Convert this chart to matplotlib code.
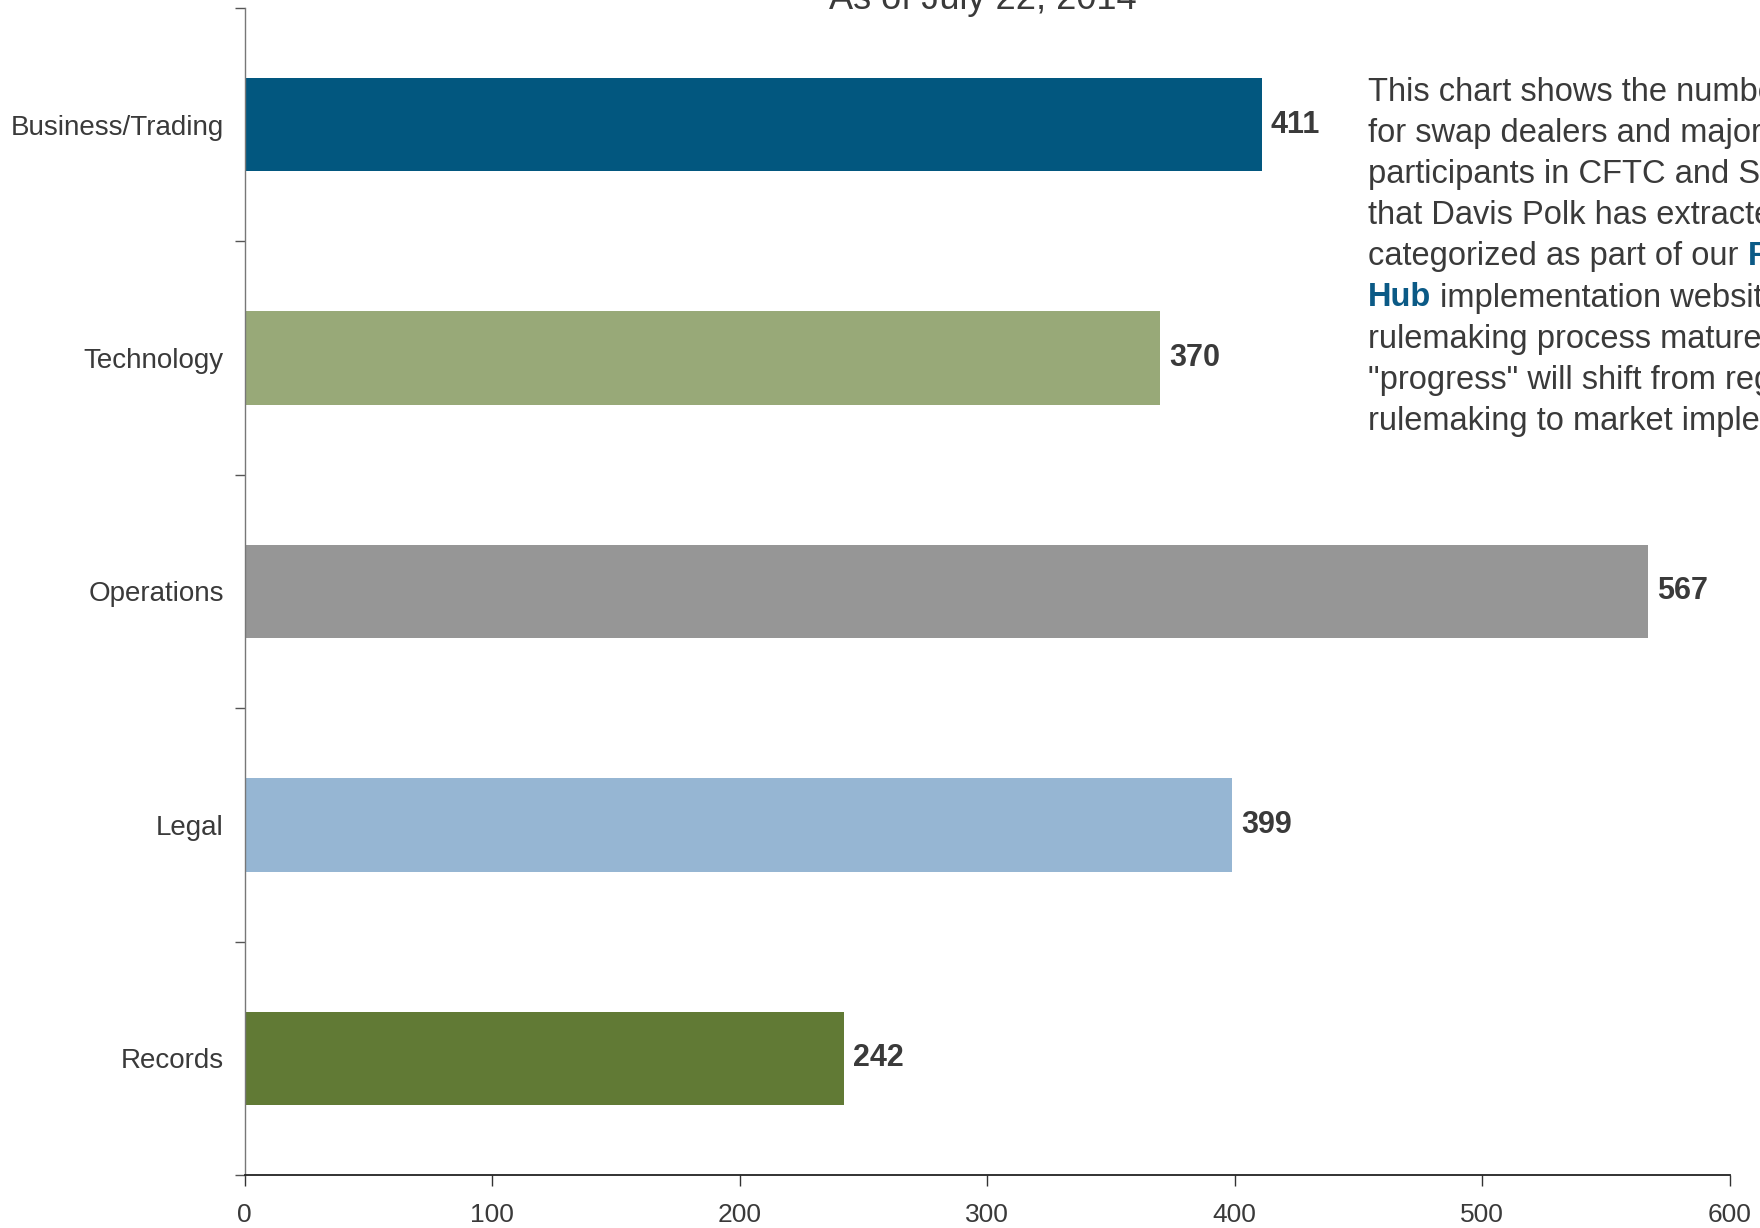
import matplotlib
matplotlib.use('Agg')
import matplotlib.pyplot as plt
import numpy as np

# Data
categories = ['Business/Trading', 'Technology', 'Operations', 'Legal', 'Records']
counts = [411, 370, 567, 399, 242]
bar_colors = ['#02577F', '#98A978', '#969696', '#96B6D3', '#617A35']
x_ticks = [0, 100, 200, 300, 400, 500, 600]

note_lines = [
    'This chart shows the number of requirements',
    'for swap dealers and major swap',
    'participants in CFTC and SEC rules',
    'that Davis Polk has extracted and',
    'categorized as part of our ',
    ' implementation website. As the',
    'rulemaking process matures,',
    '"progress" will shift from regulatory',
    'rulemaking to market implementation.',
]

plt.rcParams['font.family'] = ['Liberation Sans', 'DejaVu Sans']
text_color = '#3a3a3a'
link_color = '#0B5A86'

fig = plt.figure(figsize=(17.6, 12.28), dpi=100)
ax = fig.add_axes([0.139, 0.0432, 0.8437, 0.9503])

y = np.arange(len(categories))
ax.barh(y, counts, height=0.4, color=bar_colors)

for yi, v in zip(y, counts):
    ax.annotate(str(v), xy=(v, yi), xytext=(9, 0), textcoords='offset pixels',
                ha='left', va='center', fontsize=22, fontweight='bold', color=text_color)

ax.set_xlim(0, 600)
ax.set_ylim(len(categories) - 0.5, -0.5)
ax.set_xticks(x_ticks)
ax.set_yticks(y)
ax.set_yticklabels(categories)
ax.set_yticks(np.arange(-0.5, len(categories)), minor=True)

ax.tick_params(axis='y', which='major', length=0, pad=15, labelsize=20, labelcolor=text_color)
ax.tick_params(axis='y', which='minor', length=7, width=1, color='#555555')
ax.tick_params(axis='x', length=8, width=1, pad=12, labelsize=19, labelcolor=text_color, color='#333333')

for s in ['top', 'right']:
    ax.spines[s].set_visible(False)
ax.spines['left'].set_color('#777777')
ax.spines['left'].set_linewidth(1)
ax.spines['bottom'].set_color('#222222')
ax.spines['bottom'].set_linewidth(1.3)

# Subtitle (cropped at top in the original)
fig.text(983 / 1760, 1 - 9 / 1228, 'As of July 22, 2014', ha='center', va='baseline',
         fontsize=26, color=text_color)

# Side note
x0 = 1368 / 1760
for i, line in enumerate(note_lines):
    yy = 1 - (92 + i * 41.2) / 1228
    if i == 5:
        t = fig.text(x0, yy, 'Hub', ha='left', va='center', fontsize=23.5,
                     fontweight='bold', color=link_color)
        ax.annotate(line, xy=(1, 0), xycoords=t, ha='left', va='bottom',
                    fontsize=23.5, color=text_color, annotation_clip=False)
    else:
        t = fig.text(x0, yy, line, ha='left', va='center', fontsize=23.5, color=text_color)
        if i == 4:
            ax.annotate('Regulatory', xy=(1, 0), xycoords=t, ha='left', va='bottom',
                        fontsize=23.5, fontweight='bold', color=link_color,
                        annotation_clip=False)

plt.savefig('out.png', dpi=100, facecolor='white')
plt.close()
